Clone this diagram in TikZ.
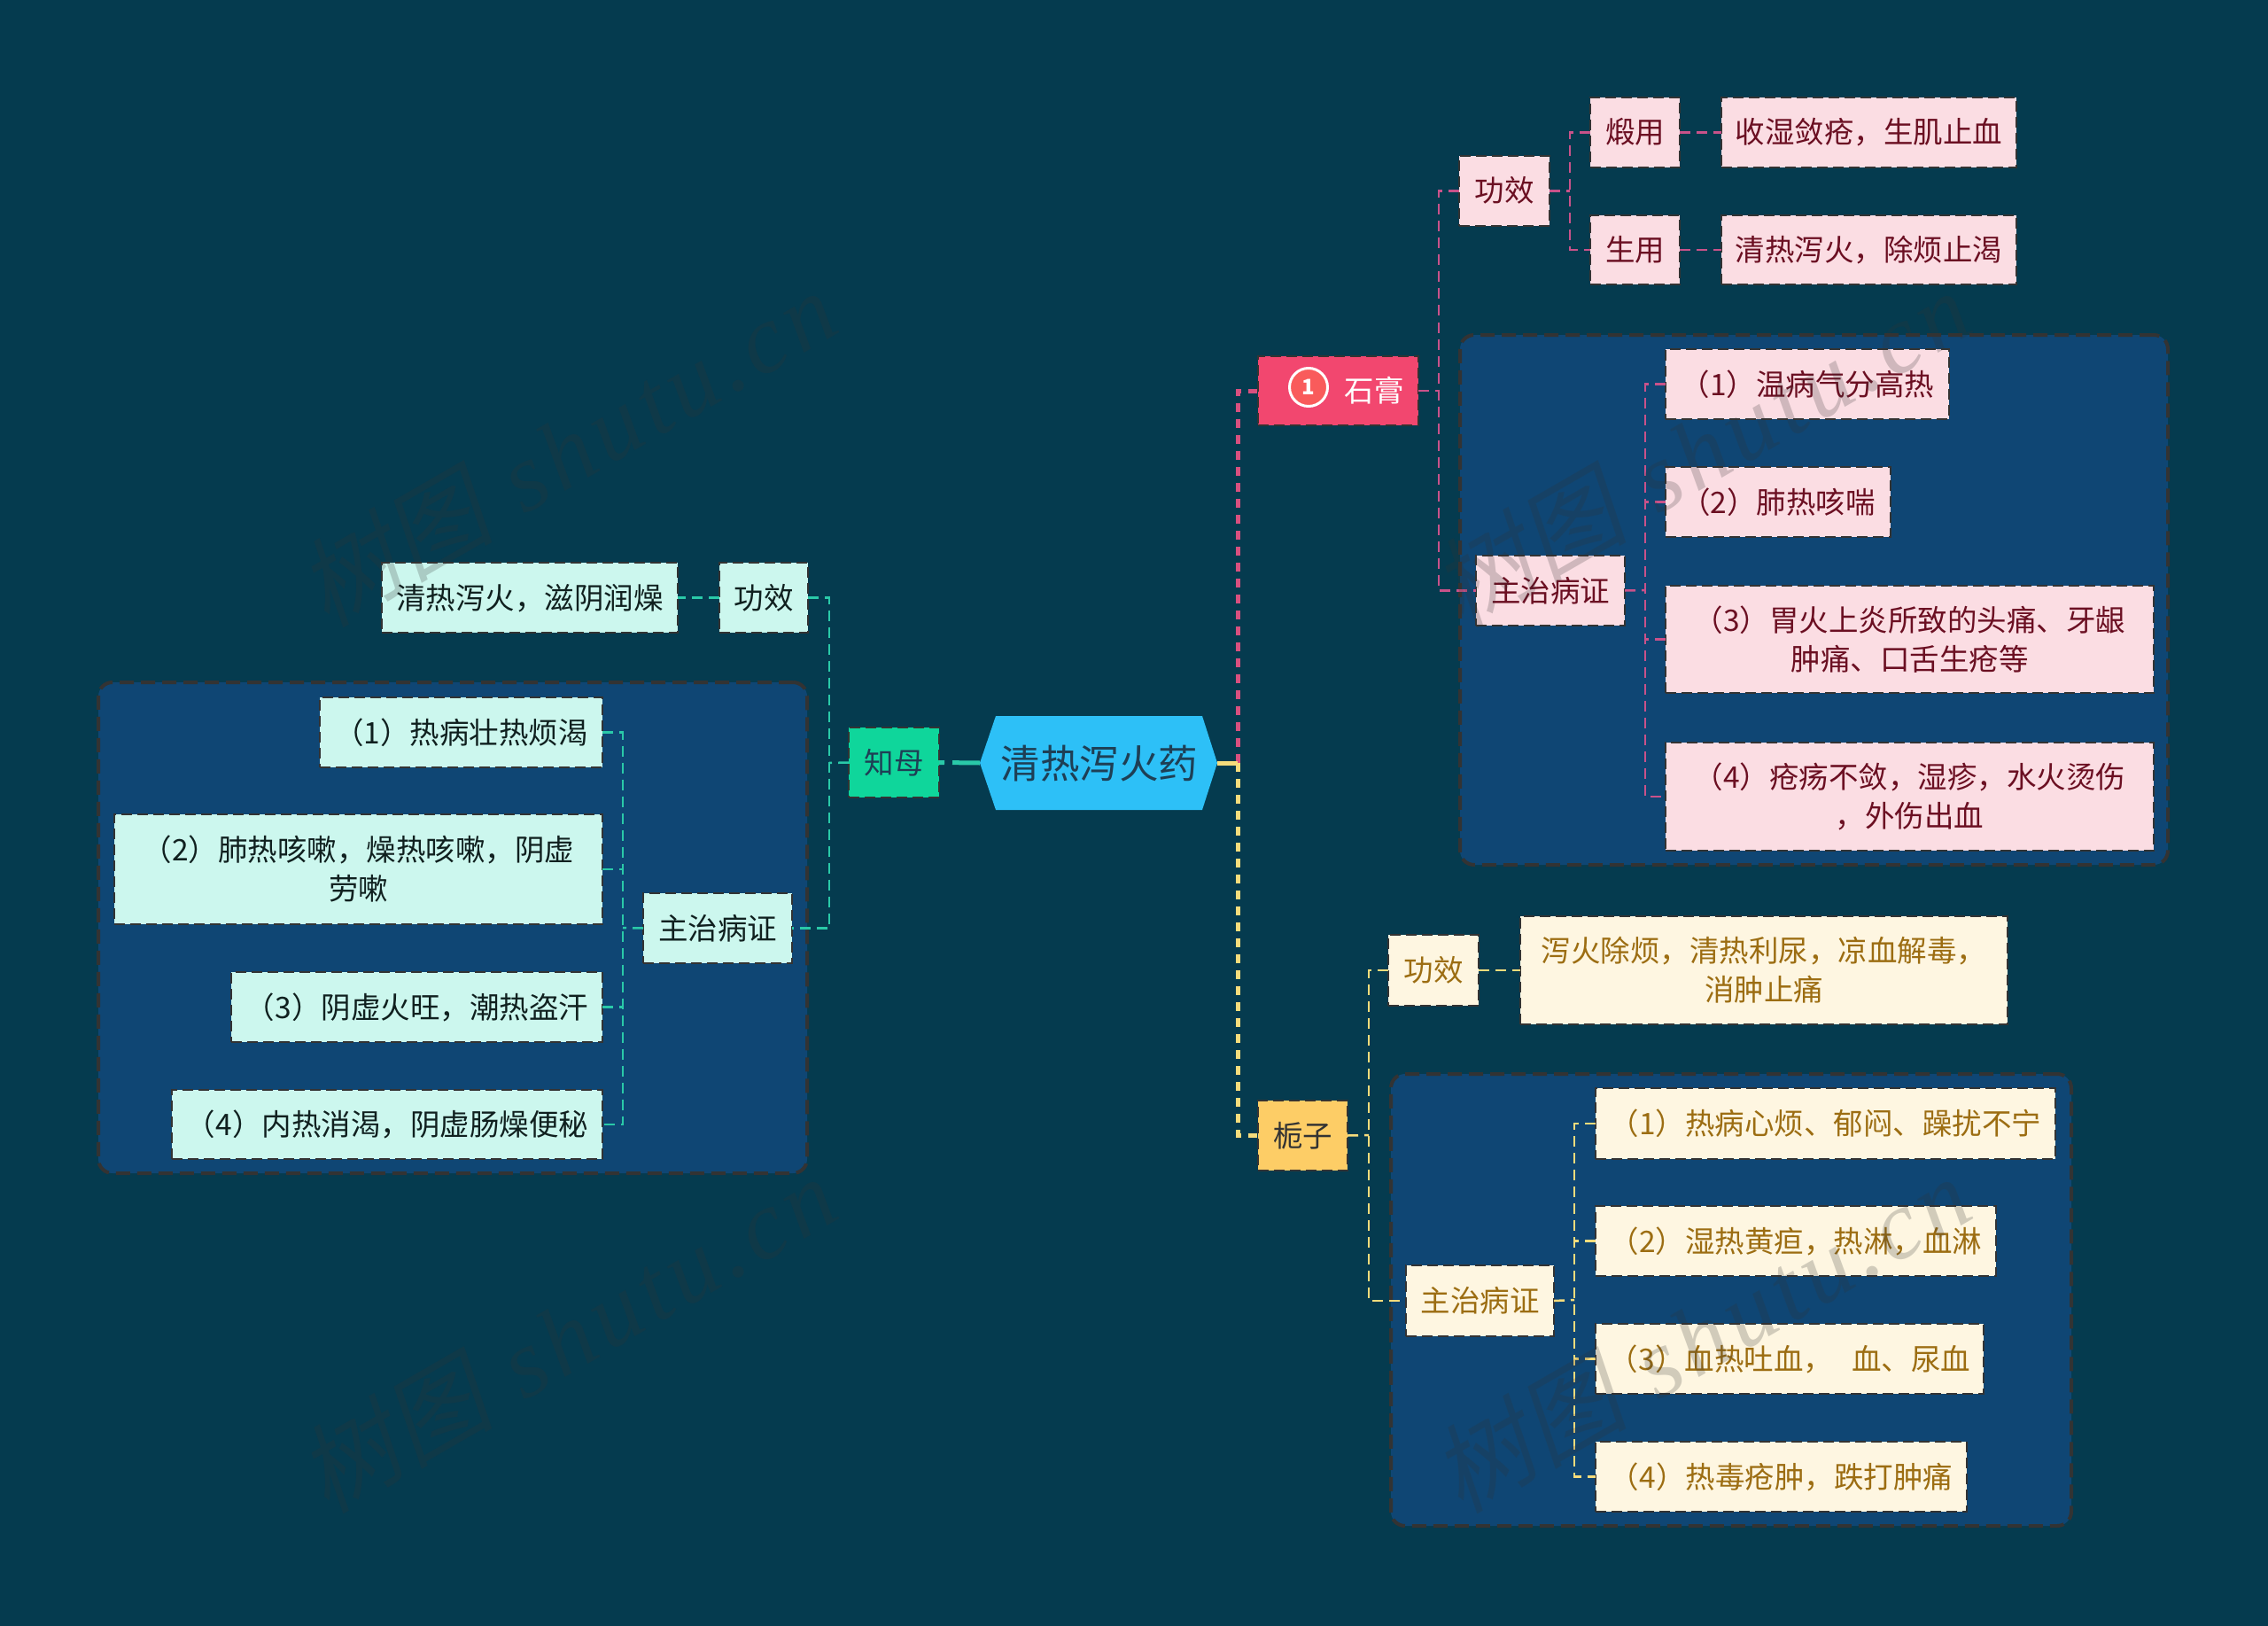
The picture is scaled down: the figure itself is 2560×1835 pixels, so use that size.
\documentclass[tikz,border=0pt]{standalone}
\usepackage{fontspec}
\setmainfont{Noto Sans CJK SC}
\newfontfamily\wmlatin[LetterSpace=6]{Liberation Serif}
\newfontfamily\wmcjk[FakeSlant=0.2]{Noto Sans CJK SC}
\definecolor{bgc}{HTML}{053B4F}
\definecolor{panelc}{HTML}{0F4674}
\definecolor{edgec}{HTML}{333333}
\definecolor{pinkfill}{HTML}{FBDDE3}
\definecolor{pinktext}{HTML}{6B0F22}
\definecolor{pinkline}{HTML}{D8507F}
\definecolor{pinklinetwo}{HTML}{C9528A}
\definecolor{tealfill}{HTML}{CCF7EE}
\definecolor{tealtext}{HTML}{10201F}
\definecolor{tealline}{HTML}{2AC9A8}
\definecolor{yelfill}{HTML}{FEF6E1}
\definecolor{yeltext}{HTML}{9C6D12}
\definecolor{yelline}{HTML}{F6DC7C}
\definecolor{rootc}{HTML}{2DC0F7}
\definecolor{roottext}{HTML}{1E3F55}
\definecolor{shigao}{HTML}{F2476F}
\definecolor{zhimu}{HTML}{0FD69B}
\definecolor{zhizi}{HTML}{FDCD66}
\definecolor{iconc}{HTML}{F95B5B}
\newcommand{\st}{\rule[-5pt]{0pt}{35pt}}
\newcommand{\bxn}[7]{\node[#2,minimum width={(#5-#3)*1pt},minimum height={(#6-#4)*1pt}] (#1) at ({(#3+#5)/2},{(#4+#6)/2}) {#7};}
\tikzset{
  x=1pt,y=-1pt,
  anybox/.style={rectangle,inner sep=0pt,outer sep=0pt,align=center,draw=edgec,line width=2pt,dash pattern=on 12pt off 6pt,font=\fontsize{33.5}{44}\selectfont},
  boxp/.style={anybox,fill=pinkfill,text=pinktext},
  boxt/.style={anybox,fill=tealfill,text=tealtext},
  boxy/.style={anybox,fill=yelfill,text=yeltext},
  panelbox/.style={rectangle,inner sep=0pt,outer sep=0pt,fill=panelc,draw=edgec,line width=4pt,dash pattern=on 16pt off 8pt,rounded corners=16pt},
  pone/.style={draw=pinkline,line width=5pt,dash pattern=on 10pt off 8pt},
  ptwo/.style={draw=pinklinetwo,line width=2.5pt,dash pattern=on 12pt off 7pt},
  tone/.style={draw=tealline,line width=5pt,dash pattern=on 31pt off 9pt},
  ttwo/.style={draw=tealline,line width=2.5pt,dash pattern=on 12pt off 7pt},
  yone/.style={draw=yelline,line width=5pt,dash pattern=on 10pt off 8pt},
  ytwo/.style={draw=yelline,line width=2.5pt,dash pattern=on 12pt off 7pt},
  wmark/.style={rotate=30,text=edgec,text opacity=0.22,inner sep=0pt},
}
\begin{document}
\begin{tikzpicture}
\useasboundingbox (0,0) rectangle (2560,1835);
\fill[bgc] (0,0) rectangle (2560,1835);

% panels
\bxn{panP}{panelbox}{1648}{378}{2447}{976}{}
\bxn{panY}{panelbox}{1570}{1212}{2338}{1722}{}
\bxn{panT}{panelbox}{111}{770}{911}{1324}{}

% junction points
\coordinate (tr) at (1397,861);
\coordinate (jP) at (1624,441);
\coordinate (jPg) at (1772,215);
\coordinate (jPz) at (1857,666);
\coordinate (jY) at (1545,1281);
\coordinate (jYz) at (1777,1467);
\coordinate (jT) at (936,861);
\coordinate (jTz) at (703,1047);

% root
\fill[rootc] (1106,861) -- (1124,808) -- (1357,808) -- (1374,861) -- (1357,914) -- (1124,914) -- cycle;
\node[minimum width=268pt,minimum height=106pt,inner sep=0pt,outer sep=0pt,text=roottext,font=\fontsize{44.5}{50}\selectfont] (root) at (1240,861) {\hspace{2pt}清热泻火药\rule[-6pt]{0pt}{46pt}};

% first level
\bxn{sg}{anybox,fill=shigao,draw=edgec}{1420}{402}{1601}{480}{}
\bxn{zm}{anybox,fill=zhimu,text=roottext}{958}{821}{1060}{900}{\st 知母}
\bxn{zz}{anybox,fill=zhizi,text=edgec}{1420}{1242}{1521}{1321}{\st 栀子}
\node[circle,draw=white,line width=3pt,fill=iconc,minimum size=43pt,inner sep=0pt,text=white,font=\fontsize{24}{30}\selectfont\bfseries] (sgi) at (1477,437) {1};
\node[inner sep=0pt,text=white,font=\fontsize{33.5}{44}\selectfont] (sgt) at (1551,441) {\st 石膏};

% pink branch
\bxn{pg}{boxp}{1647}{176}{1749}{255}{\st 功效}
\bxn{pd}{boxp}{1795}{110}{1896}{189}{\st 煅用}
\bxn{ps}{boxp}{1795}{243}{1896}{321}{\st 生用}
\bxn{pdt}{boxp}{1943}{110}{2276}{189}{\st 收湿敛疮，生肌止血}
\bxn{pst}{boxp}{1943}{243}{2276}{321}{\st 清热泻火，除烦止渴}
\bxn{pz}{boxp}{1666}{627}{1834}{706}{\st 主治病证}
\bxn{p1}{boxp}{1880}{394}{2200}{473}{\st （1）温病气分高热}
\bxn{p2}{boxp}{1880}{527}{2134}{606}{\st （2）肺热咳喘}
\bxn{p3}{boxp}{1880}{661}{2431}{782}{\st （3）胃火上炎所致的头痛、牙龈\\\st 肿痛、口舌生疮等}
\bxn{p4}{boxp}{1880}{838}{2431}{960}{\st （4）疮疡不敛，湿疹，水火烫伤\\\st ，外伤出血}

% yellow branch
\bxn{yg}{boxy}{1567}{1055}{1669}{1135}{\st 功效}
\bxn{ygt}{boxy}{1716}{1034}{2266}{1156}{\st 泻火除烦，清热利尿，凉血解毒，\\\st 消肿止痛}
\bxn{yz}{boxy}{1587}{1428}{1754}{1508}{\st 主治病证}
\bxn{y1}{boxy}{1801}{1228}{2320}{1308}{\st （1）热病心烦、郁闷、躁扰不宁}
\bxn{y2}{boxy}{1801}{1361}{2253}{1440}{\st （2）湿热黄疸，热淋，血淋}
\bxn{y3}{boxy}{1801}{1494}{2239}{1573}{\st （3）血热吐血，\hspace{21pt}血、尿血}
\bxn{y4}{boxy}{1801}{1627}{2220}{1706}{\st （4）热毒疮肿，跌打肿痛}

% teal branch
\bxn{tg}{boxt}{812}{635}{912}{714}{\st 功效}
\bxn{tgt}{boxt}{431}{635}{765}{714}{\st 清热泻火，滋阴润燥}
\bxn{tz}{boxt}{726}{1008}{894}{1087}{\st 主治病证}
\bxn{t1}{boxt}{361}{787}{680}{866}{\st （1）热病壮热烦渴}
\bxn{t2}{boxt}{129}{919}{680}{1043}{\st （2）肺热咳嗽，燥热咳嗽，阴虚\\\st 劳嗽}
\bxn{t3}{boxt}{261}{1097}{680}{1176}{\st （3）阴虚火旺，潮热盗汗}
\bxn{t4}{boxt}{194}{1230}{680}{1308}{\st （4）内热消渴，阴虚肠燥便秘}

% connectors
\draw[yone] (tr) |- (zz.west);
\draw[pone] (tr) |- (sg.west);
\draw[draw=yelline,line width=5pt] (root.east) -- (tr);
\draw[tone] (root.west) -- (zm.east);

\draw[ptwo] (sg.east) -- (jP);
\draw[ptwo] (pg.west) -| (jP) |- (pz.west);
\draw[ptwo] (pg.east) -- (pg.east -| jPg);
\draw[ptwo] (pd.west) -| (jPg) |- (ps.west);
\draw[ptwo] (pd.east) -- (pdt.west);
\draw[ptwo] (ps.east) -- (pst.west);
\draw[ptwo] (pz.east) -- (jPz);
\draw[ptwo] (p1.west) -| (jPz) |- (p4.west);
\draw[ptwo] (p2.west) -- (p2.west -| jPz);
\draw[ptwo] (p3.west) -- (p3.west -| jPz);

\draw[ytwo] (zz.east) -- (jY);
\draw[ytwo] (yg.west) -| (jY) |- (yz.west);
\draw[ytwo] (yg.east) -- (ygt.west);
\draw[ytwo] (yz.east) -- (jYz);
\draw[ytwo] (y1.west) -| (jYz) |- (y4.west);
\draw[ytwo] (y2.west) -- (y2.west -| jYz);
\draw[ytwo] (y3.west) -- (y3.west -| jYz);

\draw[ttwo] (zm.west) -- (jT);
\draw[ttwo] (tg.east) -| (jT) |- (tz.east);
\draw[ttwo] (tg.west) -- (tgt.east);
\draw[ttwo] (tz.west) -- (jTz);
\draw[ttwo] (t1.east) -| (jTz) |- (t4.east);
\draw[ttwo] (t2.east) -- (t2.east -| jTz);
\draw[ttwo] (t3.east) -- (t3.east -| jTz);

% watermark tiles
\foreach \wx/\wy/\wn in {640/505/a,1920/505/b,640/1505/c,1920/1505/d}
  \node[wmark] (wm\wn) at (\wx,\wy) {\fontsize{110}{120}\selectfont\wmcjk 树图\hspace{36pt}\wmlatin\itshape shutu.cn};
\end{tikzpicture}
\end{document}
